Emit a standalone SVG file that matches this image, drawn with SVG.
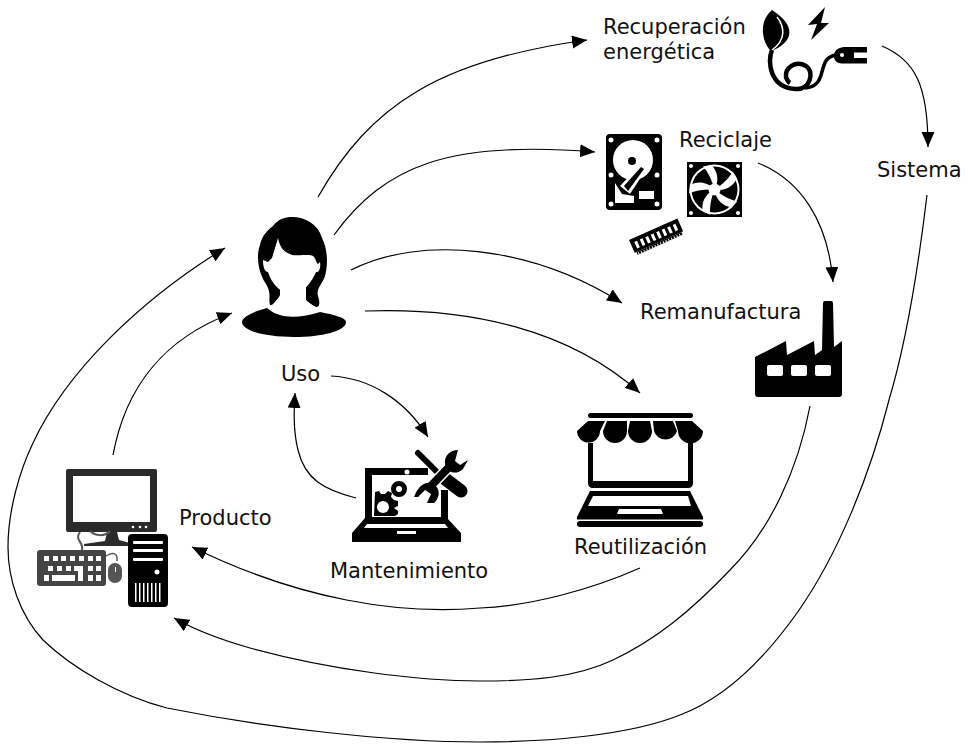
<svg xmlns="http://www.w3.org/2000/svg" width="968" height="744" viewBox="0 0 968 744">
<style>
text{font-family:"DejaVu Sans",Verdana,sans-serif;font-size:21px;fill:#111}
.c{fill:none;stroke:#000;stroke-width:1.2;marker-end:url(#a)}
.w{fill:#fff}.n{fill:none;stroke:#000}
</style>
<defs>
<marker id="a" markerUnits="userSpaceOnUse" markerWidth="16" markerHeight="14" refX="15" refY="6.500" orient="auto"><path d="M0,0L15,6.500L0,13z"/></marker>
<path id="gap" class="w" d="M714.500,189.500C712,180 708,172 703,166.500L711,165C717,170 720,180 714.500,189.500z"/>
</defs>
<rect width="968" height="744" fill="#fff"/>
<g id="connectors">
<path class="c" d="M318,197C370,105 440,60 587,40"/>
<path class="c" d="M334,235C385,165 450,140 595,152"/>
<path class="c" d="M351,270C420,235 530,245 622,303"/>
<path class="c" d="M365,311C470,307 570,330 640,393"/>
<path class="c" d="M331,376C370,378 405,400 428,437"/>
<path class="c" d="M356,498C325,490 305,480 298,450C293,430 294,410 295,393"/>
<path class="c" d="M113,455C125,390 160,340 232,313"/>
<path class="c" d="M927,195C918,270 907,340 889,400C870,475 838,555 797,613C760,665 720,700 680,715C630,735 550,742 480,742C390,742 267,728 167,708C120,696 72,668 43,640C20,615 8,580 8,547C8,510 20,470 33,443C66,372 140,300 225,248"/>
<path class="c" d="M640,568C590,590 530,606 480,608C400,615 300,600 192,547"/>
<path class="c" d="M810,406C798,470 770,530 730,570C690,612 655,640 613,660C575,678 530,681 480,681C420,681 330,670 250,648C215,638 195,630 174,618"/>
<path class="c" d="M882,46C915,60 928,85 928,147"/>
<path class="c" d="M758,163C800,180 828,220 833,282"/>
</g>
<g id="recuperacion">
<text x="603" y="34">Recuperación</text><text x="603" y="59">energética</text>
<path d="M772,10C758,22 762,42 771,51C790,44 800,28 772,10z"/>
<path class="n" style="stroke:#fff" stroke-width="1.500" d="M777,17C785,27 786,40 772,50"/>
<path d="M825,7L808,25L817,24L811,40L829,23L821,23z"/>
<path class="n" stroke-width="4.500" d="M772,50C767,62 770,88 796,89C810,90 815,72 806,66C795,60 785,68 786,77C787,80 788,82 790,83"/>
<path class="n" stroke-width="3.500" d="M805,88C830,86 815,58 836,55"/>
<path d="M834,56C834,49 840,47 846,47H867V52.500H854V58H867V63.500H846C840,64 834,63 834,56z"/>
<circle class="w" cx="842" cy="55" r="2"/>
</g>
<g id="reciclaje">
<text x="679" y="147">Reciclaje</text>
<rect x="606" y="134" width="56" height="76" rx="4"/>
<circle cx="633" cy="160" r="20" class="w"/><circle cx="632" cy="161" r="4"/>
<path d="M620,186L641,164L647,168L630,194z" class="w"/><path d="M624,186L641,167L644,169L628,191z"/>
<path class="w" d="M615,183L622,194L634,196V203H615z"/><rect class="w" x="639" y="191" width="15" height="8"/>
<circle class="w" cx="611" cy="140" r="2.500"/><circle class="w" cx="657" cy="140" r="2.500"/><circle class="w" cx="611" cy="175" r="2.500"/><circle class="w" cx="657" cy="175" r="2.500"/><circle class="w" cx="611" cy="204" r="2.500"/><circle class="w" cx="657" cy="204" r="2.500"/>
<rect x="687" y="162" width="55" height="55"/>
<circle class="w" cx="714.500" cy="189.500" r="25"/><circle cx="714.500" cy="189.500" r="23"/>
<use href="#gap"/><use href="#gap" transform="rotate(72 714.500 189.500)"/><use href="#gap" transform="rotate(144 714.500 189.500)"/><use href="#gap" transform="rotate(216 714.500 189.500)"/><use href="#gap" transform="rotate(288 714.500 189.500)"/>
<circle class="w" cx="714.500" cy="189.500" r="6"/>
<circle class="w" cx="691" cy="166" r="2"/><circle class="w" cx="738" cy="166" r="2"/><circle class="w" cx="691" cy="213" r="2"/><circle class="w" cx="738" cy="213" r="2"/>
<g transform="translate(629,240) rotate(-24)"><rect width="53" height="14"/><path d="M2,14h49v3h-49z"/><path class="w" d="M4,4h3v7h-3zM10,4h3v7h-3zM16,4h3v7h-3zM22,4h3v7h-3zM28,4h3v7h-3zM34,4h3v7h-3zM40,4h3v7h-3zM46,4h3v7h-3z"/><path class="w" d="M3,15h1v2h-1zM6,15h1v2h-1zM9,15h1v2h-1zM12,15h1v2h-1zM15,15h1v2h-1zM18,15h1v2h-1zM21,15h1v2h-1zM24,15h1v2h-1zM27,15h1v2h-1zM30,15h1v2h-1zM33,15h1v2h-1zM36,15h1v2h-1zM39,15h1v2h-1zM42,15h1v2h-1zM45,15h1v2h-1zM48,15h1v2h-1z"/></g>
</g>
<g id="sistema"><text x="877" y="177">Sistema</text></g>
<g id="remanufactura">
<text x="640" y="319">Remanufactura</text>
<path d="M755,357L786,341L787,355L814,341L815,355L822,350L823,303Q823,301 825,301H831Q833,301 833,303L834,347L842,341V394Q842,397 839,397H758Q755,397 755,394z"/>
<rect class="w" x="767" y="365" width="16" height="11" rx="2"/><rect class="w" x="791" y="365" width="16" height="11" rx="2"/><rect class="w" x="815" y="365" width="16" height="11" rx="2"/>
</g>
<g id="uso">
<path d="M292,217C305,217 318,224 322,238C328,250 328,265 325,276C322,285 316,288 318,296C320,302 320,307 316,307L304,300L304,285H280L280,295C278,300 274,306 270,305C268,298 272,294 266,284C258,272 256,255 260,245C262,235 268,230 273,226C278,219 285,217 292,217z"/>
<path class="w" d="M263,260L268,262L272,258L278,238C280,248 284,252 292,255C300,256 310,254 313,256C316,258 316,263 318,264L320,262C321,268 319,273 316,272C312,282 302,294 293,295C282,294 272,285 268,272C265,272 263,268 263,260z"/>
<path class="w" d="M280,288L280,296L267,311L280,318H310L320,312L306,300L306,286z"/>
<path d="M267,308C272,312 276,314 280,315C288,318 306,317 320,312C336,315 346,318 346,322C346,331 322,337 294,337C266,337 242,331 242,322C242,317 255,311 267,308z"/>
<text x="281" y="381">Uso</text>
</g>
<g id="mantenimiento">
<path d="M365,468H428V475H372V517H441V490H448V520H365z"/>
<circle class="w" cx="407" cy="472" r="2.500"/>
<path d="M375,492L379,491L381,494L385,494L388,491L392,493L391,497L394,500L398,501L398,506L394,508L398,511L398,514L395,516H374z"/>
<circle class="w" cx="383" cy="507" r="6"/>
<circle cx="399" cy="489" r="5.500" fill="none" stroke="#000" stroke-width="5"/>
<path d="M365,518H447L461,533V542H352V533z"/>
<path class="w" d="M367,524H445L448,528H364z"/><rect class="w" x="397" y="531" width="19" height="3"/>
<path d="M418,453L438,473" stroke="#000" stroke-width="6" stroke-linecap="round"/>
<path d="M444,478L461,491" stroke="#000" stroke-width="13" stroke-linecap="round"/>
<path d="M428,489L451,465" stroke="#fff" stroke-width="11"/>
<path d="M428,489L451,465" stroke="#000" stroke-width="8"/>
<path d="M458,450C450,450 444,456 445,464C446,472 456,476 463,469L468,460L460,465L455,461z"/>
<path d="M414,497C418,486 426,480 433,484C441,488 440,498 434,503L427,503L431,494L425,490L418,497z"/>
<text x="330" y="578">Mantenimiento</text>
</g>
<g id="reutilizacion">
<rect x="588" y="413" width="105" height="5" rx="2.500"/>
<path d="M588,421H605L600,431A11.500,11.500 0 0 1 577,431z"/>
<path d="M607,421H627V431A12,12 0 0 1 603,431z"/>
<path d="M630,421H650L652,431A12,12 0 0 1 628,431z"/>
<path d="M653,421H673L677,431A12,12 0 0 1 654,431z"/>
<path d="M675,421H692L703,431A12.500,12.500 0 0 1 678,431z"/>
<path d="M588,443H593V481H688V443H693V483Q693,488 688,488H593Q588,488 588,483z"/>
<path d="M590,491H690L703,517V521H577V517z"/>
<path class="w" d="M593,496H688L691,506H588z"/><path class="w" d="M619,509H661L663,514H617z"/>
<rect x="577" y="521" width="126" height="6" rx="3"/><rect class="w" x="577" y="519.500" width="126" height="1.500"/>
<text x="574" y="554">Reutilización</text>
</g>
<g id="producto">
<text x="179" y="525">Producto</text>
<rect x="66" y="469" width="91" height="63" rx="2" fill="#2b2b2b"/>
<rect class="w" x="73" y="476" width="77" height="46"/>
<circle class="w" cx="133" cy="527" r="1.300"/><circle class="w" cx="140" cy="527" r="1.300"/><circle class="w" cx="146" cy="527" r="1.300"/>
<path d="M107,532H117L119,540L130,543V546H84V544L105,541z" fill="#2b2b2b"/>
<path d="M80,532C74,540 84,542 82,550" fill="none" stroke="#555" stroke-width="2"/><path d="M110,531C105,537 95,536 90,531" fill="none" stroke="#555" stroke-width="2"/>
<rect x="37" y="550" width="69" height="36" rx="3" fill="#444"/>
<path class="w" d="M44,556h5v5h-5zM53,556h5v5h-5zM61,556h5v5h-5zM70,556h5v5h-5zM79,556h5v5h-5zM88,556h5v5h-5zM96,556h5v5h-5zM48,566h5v5h-5zM57,566h5v5h-5zM66,566h5v5h-5zM74,566h9v15h-5v-10h-4zM88,566h5v5h-5zM96,566h5v5h-5zM44,575h5v6h-5zM52,575h23v6h-23zM88,575h5v6h-5zM96,575h5v6h-5z"/>
<path d="M106,556C112,552 118,552 117,561" fill="none" stroke="#555" stroke-width="1.500"/>
<rect x="108" y="563" width="14" height="20" rx="7" fill="#555"/><rect class="w" x="115" y="567" width="1" height="5"/>
<rect x="128" y="534" width="40" height="73" rx="4"/>
<rect class="w" x="133" y="541" width="30" height="3" rx="1"/><rect class="w" x="133" y="549" width="30" height="3" rx="1"/><rect class="w" x="133" y="558" width="30" height="3" rx="1"/>
<circle class="w" cx="157" cy="572" r="2.500"/>
<path class="w" d="M135,583h1.500v19h-1.500zM139,583h1.500v19h-1.500zM143,583h1.500v19h-1.500zM147,583h1.500v19h-1.500zM151,583h1.500v19h-1.500zM155,583h1.500v19h-1.500zM159,583h1.500v19h-1.500z"/>
</g>
</svg>
